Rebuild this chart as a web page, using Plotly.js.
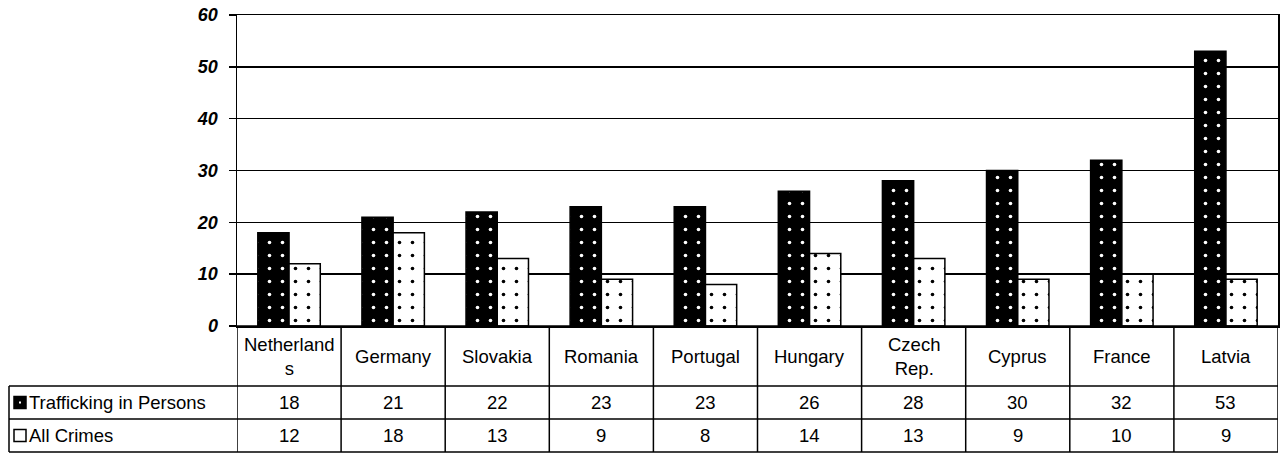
<!DOCTYPE html>
<html>
<head>
<meta charset="utf-8">
<script src="https://cdn.plot.ly/plotly-3.0.1.min.js"></script>
<style>html,body{margin:0;padding:0;background:#fff;}#chart{width:1284px;height:453px;}</style>
</head>
<body>
<div id="chart"></div>
<script>
const categories = ['Netherland<br>s', 'Germany', 'Slovakia', 'Romania', 'Portugal', 'Hungary', 'Czech<br>Rep.', 'Cyprus', 'France', 'Latvia'];
const trafficking = [18, 21, 22, 23, 23, 26, 28, 30, 32, 53];
const allCrimes = [12, 18, 13, 9, 8, 14, 13, 9, 10, 9];
const seriesNames = ['Trafficking in Persons', 'All Crimes'];
const yTickVals = [0, 10, 20, 30, 40, 50, 60];

const W = 1284, H = 453;
const L = 237, R = 1278, T = 15, B = 326;
const rowLines = [326, 386, 419, 452];
const tableLeft = 9;
const px = p => (p - L) / (R - L);
const py = p => (B - p) / (B - T);
const FONT = 'Liberation Sans, Arial, sans-serif';
const TS = 18.5;
const idx = categories.map((c, i) => i);

const traces = [
  {
    type: 'bar', name: seriesNames[0], x: idx, y: trafficking,
    marker: {color: 'black', line: {color: 'black', width: 1.5},
      pattern: {shape: '.', bgcolor: 'black', fgcolor: 'white', size: 13, solidity: 0.06, fillmode: 'replace'}}
  },
  {
    type: 'bar', name: seriesNames[1], x: idx, y: allCrimes,
    marker: {color: 'white', line: {color: 'black', width: 1.5},
      pattern: {shape: '.', bgcolor: 'white', fgcolor: 'black', size: 13, solidity: 0.06, fillmode: 'replace'}}
  }
];

const shapes = [];
const annotations = [];
const line = (x0, y0, x1, y1, xref) => shapes.push({type: 'line', xref: xref || 'paper', yref: 'paper',
  x0: x0, y0: y0, x1: x1, y1: y1, line: {color: 'black', width: 1.5}, layer: 'above'});

line(px(L), py(rowLines[0]), px(R), py(rowLines[0]));
for (let k = 1; k < rowLines.length; k++) line(px(tableLeft), py(rowLines[k]), px(R), py(rowLines[k]));
for (let i = 0; i <= categories.length; i++) line(i - 0.5, py(rowLines[0]), i - 0.5, py(rowLines[3]), 'x');
line(px(tableLeft), py(rowLines[1]), px(tableLeft), py(rowLines[3]));

const mid = (a, b) => py((rowLines[a] + rowLines[b]) / 2);
const series = [trafficking, allCrimes];
categories.forEach((c, i) => {
  annotations.push({xref: 'x', yref: 'paper', x: i, y: mid(0, 1), text: c, showarrow: false,
    font: {family: FONT, size: TS, color: 'black'}, xanchor: 'center', yanchor: 'middle'});
  series.forEach((s, k) => {
    annotations.push({xref: 'x', yref: 'paper', x: i, y: mid(k + 1, k + 2), text: String(s[i]), showarrow: false,
      font: {family: FONT, size: TS, color: 'black'}, xanchor: 'center', yanchor: 'middle'});
  });
});
seriesNames.forEach((n, k) => {
  const cy = (rowLines[k + 1] + rowLines[k + 2]) / 2;
  shapes.push({type: 'rect', xref: 'paper', yref: 'paper', x0: px(14), x1: px(26), y0: py(cy - 6), y1: py(cy + 6),
    fillcolor: k === 0 ? 'black' : 'white', line: {color: 'black', width: 1.5}, layer: 'above'});
  annotations.push({xref: 'paper', yref: 'paper', x: px(27), y: py(cy), text: n, showarrow: false,
    font: {family: FONT, size: TS, color: 'black'}, xanchor: 'left', yanchor: 'middle'});
});
shapes.push({type: 'rect', xref: 'paper', yref: 'paper', x0: px(19), x1: px(21), y0: py((rowLines[1] + rowLines[2]) / 2 - 1), y1: py((rowLines[1] + rowLines[2]) / 2 + 1),
  fillcolor: 'white', line: {width: 0}, layer: 'above'});

const layout = {
  width: W, height: H,
  margin: {l: L, r: W - R, t: T, b: H - B, pad: 0},
  paper_bgcolor: 'white', plot_bgcolor: 'white',
  showlegend: false,
  barmode: 'group', bargap: 0.4, bargroupgap: 0,
  xaxis: {range: [-0.5, categories.length - 0.5], showticklabels: false, ticks: '', showgrid: false,
    zeroline: false, showline: true, mirror: true, linecolor: 'black', linewidth: 1.5, fixedrange: true},
  yaxis: {range: [0, 60], tickvals: yTickVals, ticks: 'outside', ticklen: 7, tickwidth: 1.5, tickcolor: 'black',
    showgrid: true, gridcolor: 'black', gridwidth: 1.5, zeroline: false, showline: true, mirror: true,
    linecolor: 'black', linewidth: 1.5, ticklabelstandoff: 7,
    tickfont: {family: FONT, size: 18, color: 'black', weight: 'bold', style: 'italic'}},
  shapes: shapes,
  annotations: annotations
};

Plotly.newPlot('chart', traces, layout, {displayModeBar: false, staticPlot: true});
</script>
</body>
</html>
